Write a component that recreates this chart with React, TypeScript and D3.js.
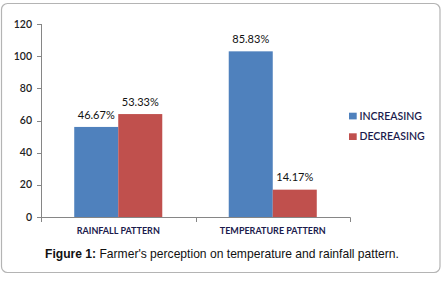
import React from "react";
import * as d3 from "d3";

const categories = ["RAINFALL PATTERN", "TEMPERATURE PATTERN"];
const seriesNames = ["INCREASING", "DECREASING"];
const increasing = [56, 103];
const decreasing = [64, 17];
const increasingLabels = ["46.67%", "85.83%"];
const decreasingLabels = ["53.33%", "14.17%"];
const yTicks = [0, 20, 40, 60, 80, 100, 120];
const colors = ["#4F81BD", "#C0504D"];

export default function App() {
  const W = 444, H = 282;
  const x0 = d3.scaleBand<string>().domain(categories).range([41, 350]).paddingInner(0).paddingOuter(0);
  const x1 = d3.scaleBand<string>().domain(seriesNames).range([0, x0.bandwidth()]).paddingInner(0).paddingOuter(0.755);
  const y = d3.scaleLinear().domain([0, 120]).range([217, 24]);
  const seriesData = [increasing, decreasing];
  const seriesLabels = [increasingLabels, decreasingLabels];
  const axisColor = "#868686";
  const calibri = "Lato, 'Open Sans', sans-serif";
  return (
    <svg width={W} height={H} style={{ position: "absolute", left: 0, top: 0 }}>
      <rect x={1.5} y={3.5} width={438.5} height={269} rx={6} ry={6} fill="#fff" stroke="#b4b4b4" strokeWidth={1.2} />
      {/* y axis */}
      <line x1={41.5} x2={41.5} y1={y(120)} y2={y(0)} stroke={axisColor} />
      {yTicks.map((t) => (
        <g key={t}>
          <line x1={37} x2={41.5} y1={Math.round(y(t)) + 0.5} y2={Math.round(y(t)) + 0.5} stroke={axisColor} />
          <text x={32} y={y(t) + 3.6} textAnchor="end" fontFamily={calibri} fontSize={10.5} fontWeight={600} fill="#222">{t}</text>
        </g>
      ))}
      {/* x axis */}
      <line x1={41} x2={350.5} y1={217.5} y2={217.5} stroke={axisColor} />
      {[...categories.map((c) => x0(c)!), 350].map((v, i) => (
        <line key={i} x1={Math.round(v) + 0.5} x2={Math.round(v) + 0.5} y1={217.5} y2={222} stroke={axisColor} />
      ))}
      {categories.map((c) => (
        <text key={c} x={x0(c)! + x0.bandwidth() / 2} y={233.5} textAnchor="middle" fontFamily={calibri} fontSize={9} fontWeight={700} fill="#1b1b4d">{c}</text>
      ))}
      {/* bars */}
      {seriesData.map((vals, si) => (
        <g key={si}>
          {vals.map((v, ci) => {
            const bx = x0(categories[ci])! + x1(seriesNames[si])!;
            return (
              <g key={ci}>
                <rect x={bx} y={y(v)} width={x1.bandwidth()} height={y(0) - y(v)} fill={colors[si]} />
                <text x={bx + x1.bandwidth() / 2} y={y(v) - 8.3} textAnchor="middle" fontFamily={calibri} fontSize={11} fill="#111">{seriesLabels[si][ci]}</text>
              </g>
            );
          })}
        </g>
      ))}
      {/* legend */}
      {seriesNames.map((s, i) => (
        <g key={s} transform={`translate(349, ${112.7 + i * 20.6})`}>
          <rect x={0} y={0} width={7.7} height={6.7} fill={colors[i]} />
          <text x={10.5} y={6.8} fontFamily={calibri} fontSize={10.5} fontWeight={600} fill="#1b1b4d">{s}</text>
        </g>
      ))}
      {/* caption */}
      <text x={45} y={258.3} fontFamily="'Liberation Sans', Arial, sans-serif" fontSize={12.1} fill="#111">
        <tspan fontWeight={700}>Figure 1:</tspan>
        <tspan> Farmer's perception on temperature and rainfall pattern.</tspan>
      </text>
    </svg>
  );
}
